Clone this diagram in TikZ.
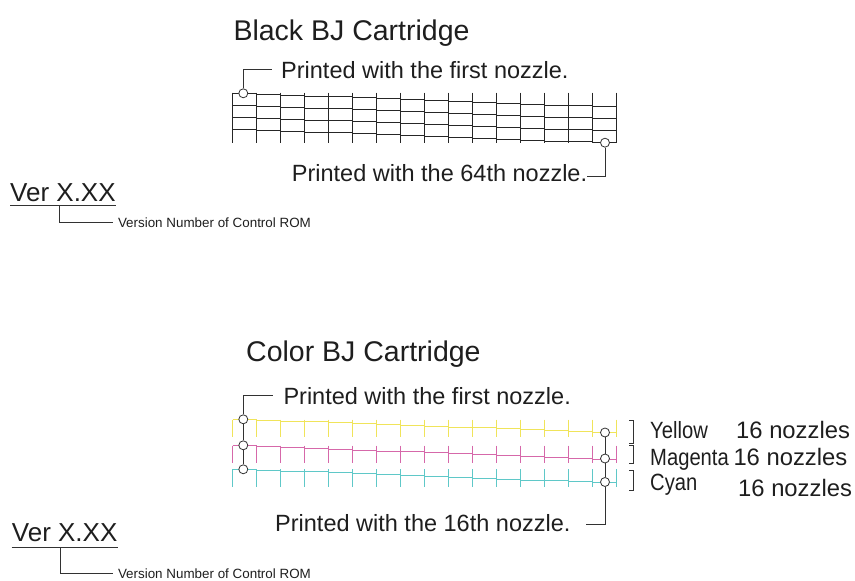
\documentclass[tikz,border=0pt]{standalone}
\usepackage{fontspec}
\setmainfont{Liberation Sans}
\definecolor{txt}{RGB}{30,30,30}
\definecolor{ln}{RGB}{50,50,50}
\definecolor{ylw}{RGB}{240,228,90}
\definecolor{mgt}{RGB}{214,104,170}
\definecolor{cyn}{RGB}{95,200,200}
\newcommand{\cnm}[1]{\scalebox{0.86}[1]{#1}}
\begin{document}
\begin{tikzpicture}[x=1pt,y=-1pt,
  lbl/.style={anchor=base west, inner sep=0pt, text=txt, font=\fontsize{23.5}{26}\selectfont},
  ttl/.style={anchor=base west, inner sep=0pt, text=txt, font=\fontsize{28.5}{32}\selectfont},
  ver/.style={anchor=base west, inner sep=0pt, text=txt, font=\fontsize{26}{30}\selectfont},
  cname/.style={anchor=base west, inner sep=0pt, text=txt, font=\fontsize{23.5}{26}\selectfont},
  nozz/.style={anchor=base west, inner sep=0pt, text=txt, font=\fontsize{23.8}{26}\selectfont},
  small/.style={anchor=west, inner xsep=4.5pt, inner ysep=0pt, text=txt, font=\fontsize{13.4}{15}\selectfont},
  noz/.style={circle, draw=ln, fill=white, minimum size=9pt, inner sep=0pt, line width=0.8pt},
  lead/.style={draw=ln, line width=0.9pt},
  gridk/.style={draw=black!85, line width=0.9pt},
  gridc/.style={line width=1pt},
]
\useasboundingbox (0,0) rectangle (855,581);

% ---------- Black cartridge ----------
\node[ttl] (t1) at (233.3,40) {Black BJ Cartridge};

% grid
\foreach \i in {0,...,16}{
  \draw[gridk] ({232.7+24*\i},92.5) -- ({232.7+24*\i},143);
}
\foreach \i in {0,...,15}{
  \foreach \r in {0,...,3}{
    \draw[gridk] ({232.7+24*\i},{93.3+0.9*\i+12*\r}) -- ({232.7+24*(\i+1)},{93.3+0.9*\i+12*\r});
  }
}

\node[lbl] (p1) at (281,78.3) {Printed with the first nozzle.};
\node[lbl] (p2) at (291.7,181.7) {Printed with the 64th nozzle.};
\node[noz] (c1) at (243.3,93.3) {};
\node[noz] (c2) at (605,142.7) {};
\coordinate (k1) at (272,69);
\coordinate (k2) at (586.7,176);
\draw[lead] (c1.north) |- (k1);
\draw[lead] (c2.south) |- (k2);

% version 1
\node[ver] (v1) at (10,201.7) {Ver X.XX};
\draw[lead] ([yshift=-3.5pt]v1.south west) -- ([yshift=-3.5pt]v1.south east);
\coordinate (u1) at (59.5,205.2);
\node[small] (s1) at (113.3,222.7) {Version Number of Control ROM};
\draw[lead] (u1) |- (s1.west);

% ---------- Color cartridge ----------
\node[ttl] (t2) at (246,361.7) {Color BJ Cartridge};

% yellow
\foreach \i in {0,...,16}{
  \draw[gridc, ylw] ({232.7+24*\i},419.5) -- ({232.7+24*\i},437.3);
}
\foreach \i in {0,...,15}{
  \draw[gridc, ylw] ({232.7+24*\i},{419.3+\i*13/15}) -- ({232.7+24*(\i+1)},{419.3+\i*13/15});
}
% magenta
\foreach \i in {0,...,16}{
  \draw[gridc, mgt] ({232.7+24*\i},445.5) -- ({232.7+24*\i},463.3);
}
\foreach \i in {0,...,15}{
  \draw[gridc, mgt] ({232.7+24*\i},{445.7+\i*13.3/15}) -- ({232.7+24*(\i+1)},{445.7+\i*13.3/15});
}
% cyan
\foreach \i in {0,...,16}{
  \draw[gridc, cyn] ({232.7+24*\i},469.3) -- ({232.7+24*\i},487.3);
}
\foreach \i in {0,...,15}{
  \draw[gridc, cyn] ({232.7+24*\i},{469.3+\i*13.4/15}) -- ({232.7+24*(\i+1)},{469.3+\i*13.4/15});
}

\node[lbl] (p3) at (283.3,404) {Printed with the first nozzle.};
\node[lbl] (p4) at (275,531.7) {Printed with the 16th nozzle.};

\node[noz] (ly) at (243.3,419.3) {};
\node[noz] (lm) at (243.3,445.3) {};
\node[noz] (lc) at (243.3,469.3) {};
\node[noz] (ry) at (605,432.5) {};
\node[noz] (rm) at (605,458.5) {};
\node[noz] (rc) at (605,482) {};
\coordinate (k3) at (272.7,395);
\coordinate (k4) at (586,524);
\draw[lead] (ly.north) |- (k3);
\draw[lead] (ly.south) -- (lm.north);
\draw[lead] (lm.south) -- (lc.north);
\draw[lead] (ry.south) -- (rm.north);
\draw[lead] (rm.south) -- (rc.north);
\draw[lead] (rc.south) |- (k4);

% brackets
\draw[lead] (629.3,420) -- (633.3,420) -- (633.3,443.3) -- (629.3,443.3);
\draw[lead] (629.3,445) -- (633.3,445) -- (633.3,463.3) -- (629.3,463.3);
\draw[lead] (629.3,470) -- (633.3,470) -- (633.3,490) -- (629.3,490);

\node[cname] (ny) at (650,438.3) {\cnm{Yellow}};
\node[cname] (nm) at (650,465) {\cnm{Magenta}};
\node[cname] (nc) at (650,490) {\cnm{Cyan}};
\node[nozz] (zy) at (736,438.3) {16 nozzles};
\node[nozz] (zm) at (733.3,465) {16 nozzles};
\node[nozz] (zc) at (738,496.7) {16 nozzles};

% version 2
\node[ver] (v2) at (11.7,541.7) {Ver X.XX};
\draw[lead] ([yshift=-5.5pt]v2.south west) -- ([yshift=-5.5pt]v2.south east);
\coordinate (u2) at (60,547.2);
\node[small] (s2) at (113.3,573.3) {Version Number of Control ROM};
\draw[lead] (u2) |- (s2.west);
\end{tikzpicture}
\end{document}
